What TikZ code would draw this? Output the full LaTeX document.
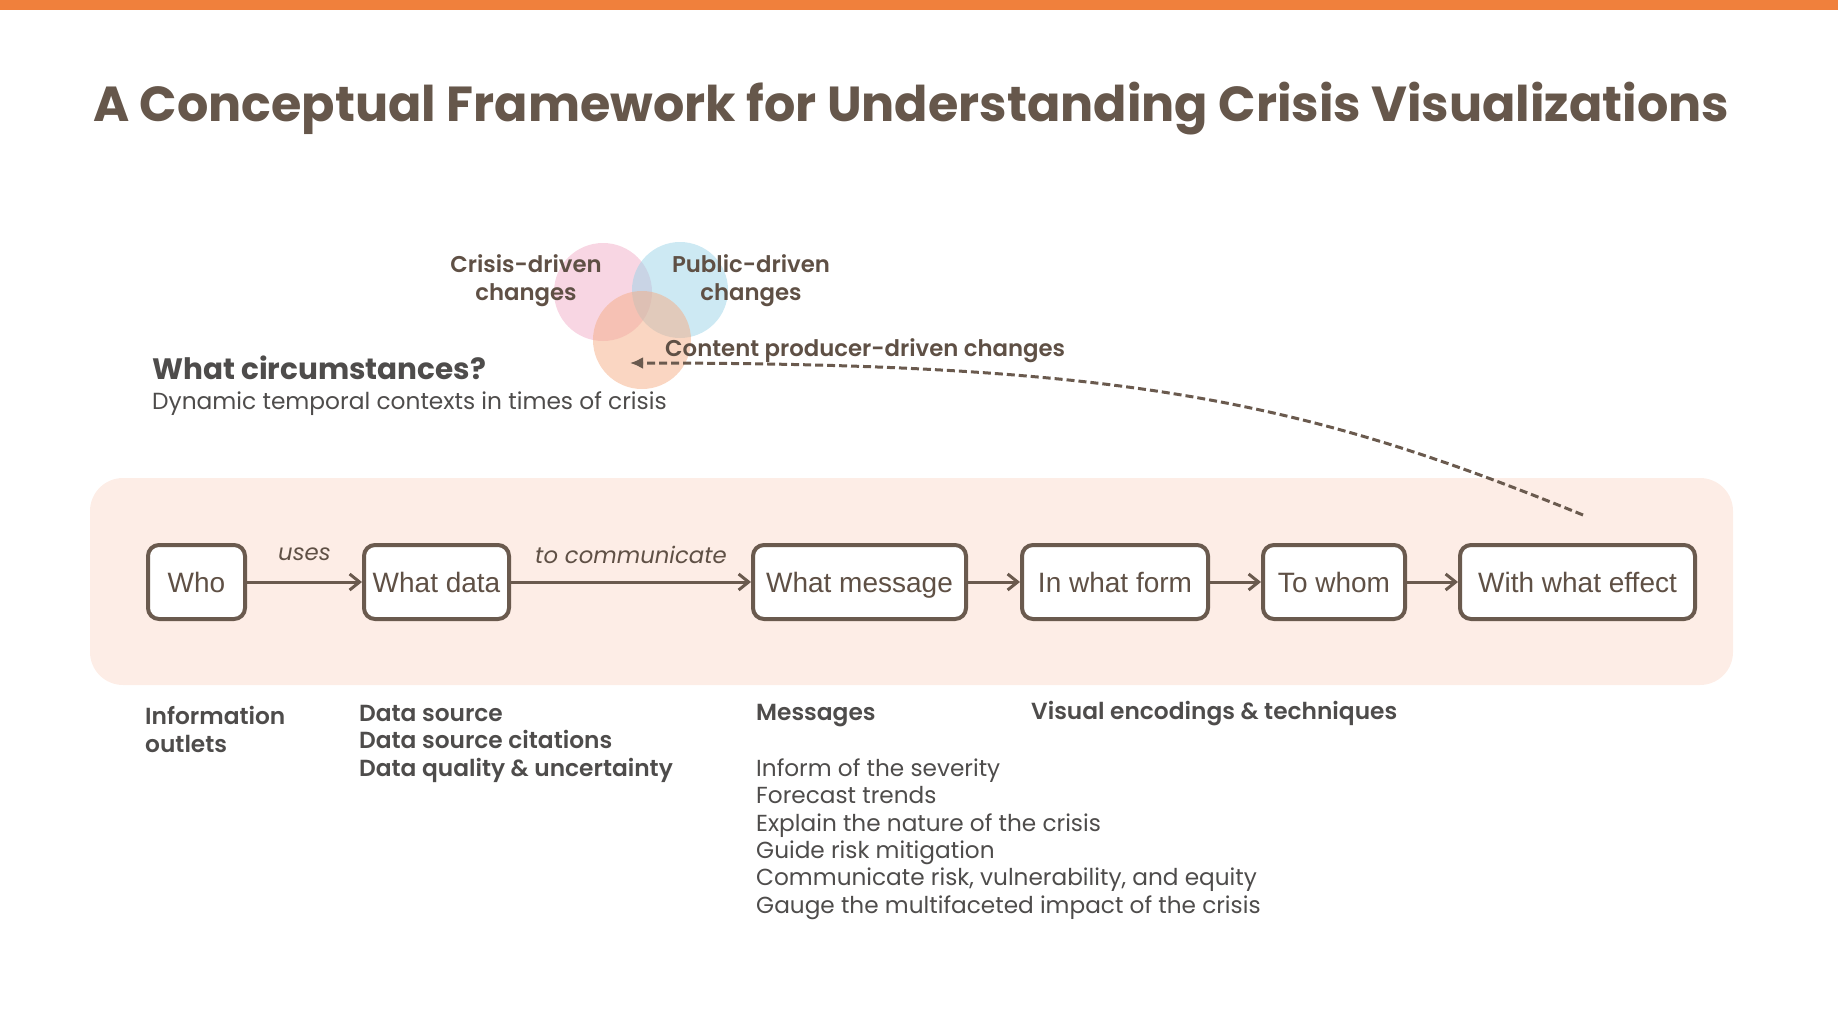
\documentclass[tikz,border=0pt]{standalone}
\usepackage{fontspec}
\setmainfont{Poppins}
\newfontfamily\semibold{Poppins SemiBold}
\newfontfamily\boxfont{Liberation Sans}
\usetikzlibrary{positioning,arrows.meta}
\definecolor{barorange}{RGB}{240,128,60}
\definecolor{titlebrown}{RGB}{102,87,75}
\definecolor{labelbrown}{RGB}{95,80,69}
\definecolor{textgrey}{RGB}{78,76,75}
\definecolor{boxline}{RGB}{106,90,78}
\definecolor{bandfill}{RGB}{253,237,230}
\definecolor{crisispink}{RGB}{241,173,199}
\definecolor{publicblue}{RGB}{155,211,231}
\definecolor{producerorange}{RGB}{245,173,133}
\tikzset{
stage/.style={draw=boxline, line width=4pt, rounded corners=11pt, fill=white, minimum height=74pt, inner xsep=0pt, text height=20pt, text depth=0pt, text=labelbrown, font=\boxfont\fontsize{28}{30}\selectfont},
flow/.style={draw=boxline, line width=3pt, -{Straight Barb[length=10pt,width=16pt]}},
feedback/.style={draw=boxline, line width=3pt, dash pattern=on 8pt off 4pt, -{Latex[length=13pt,width=12pt]}},
flowlabel/.style={inner sep=0pt, text=labelbrown, font=\fontsize{22.8}{26}\selectfont\itshape},
venn/.style={fill opacity=.5},
vennlabel/.style={inner sep=0pt, text=labelbrown, align=center, font=\semibold\fontsize{22.8}{28}\selectfont},
heading/.style={inner sep=0pt, anchor=base west, text=textgrey, align=left, font=\semibold\fontsize{23.3}{27.5}\selectfont},
listing/.style={inner sep=0pt, anchor=base west, text=textgrey, align=left, font=\fontsize{23.2}{27.3}\selectfont}
}
\begin{document}
\begin{tikzpicture}[x=1pt,y=-1pt]
\useasboundingbox (0,0) rectangle (1838,1033);
\fill[barorange] (0,0) rectangle (1838,10);
\node[anchor=base west, inner sep=0pt, text=titlebrown, font=\bfseries\fontsize{49.2}{56}\selectfont] (title) at (93,121) {A Conceptual Framework for Understanding Crisis Visualizations};

\fill[venn, crisispink] (603,292) circle (49pt);
\fill[venn, publicblue] (680,290) circle (48pt);
\fill[venn, producerorange] (642,340) circle (49pt);
\node[vennlabel, anchor=base] (crisis) at (526,300) {Crisis-driven\\changes};
\node[vennlabel, anchor=base] (public) at (751,300) {Public-driven\\changes};
\node[vennlabel, anchor=base west] (producer) at (665,356) {Content producer-driven changes};

\node[anchor=base west, inner sep=0pt, text=textgrey, font=\bfseries\fontsize{29.5}{34}\selectfont] (circ) at (152,379) {What circumstances?};
\node[anchor=base west, inner sep=0pt, text=textgrey, font=\fontsize{23.3}{27}\selectfont] (dyn) at (152,409.5) {Dynamic temporal contexts in times of crisis};

\fill[bandfill, rounded corners=33pt] (90,478) rectangle (1733,685);
\node[stage, minimum width=97pt] (who) at (196.5,582) {Who};
\node[stage, minimum width=145pt] (data) at (436.5,582) {What data};
\node[stage, minimum width=213pt] (message) at (859.5,582) {What message};
\node[stage, minimum width=186pt] (form) at (1115,582) {In what form};
\node[stage, minimum width=142pt] (whom) at (1334,582) {To whom};
\node[stage, minimum width=235pt] (effect) at (1577.5,582) {With what effect};
\draw[flow] (who) -- node[flowlabel, above=20pt] (uses) {uses} (data);
\draw[flow] (data) -- node[flowlabel, above=17pt] (tocomm) {to communicate} (message);
\draw[flow] (message) -- (form);
\draw[flow] (form) -- (whom);
\draw[flow] (whom) -- (effect);

\coordinate (fbstart) at ([xshift=5.5pt,yshift=28pt]effect.north);
\coordinate (fbend) at (630,363);
\draw[feedback] (fbstart) .. controls (1305,402) and (1130,363) .. (fbend);

\node[heading] (outlets) at (145,752) {Information\\outlets};
\node[heading] (sources) at (359,776) {Data source\\Data source citations\\Data quality \& uncertainty};
\node[heading] (messages) at (756,720) {Messages};
\node[heading] (encodings) at (1031,719) {Visual encodings \& techniques};
\node[listing] (msglist) at (756,913) {Inform of the severity\\Forecast trends\\Explain the nature of the crisis\\Guide risk mitigation\\Communicate risk, vulnerability, and equity\\Gauge the multifaceted impact of the crisis};
\end{tikzpicture}
\end{document}
